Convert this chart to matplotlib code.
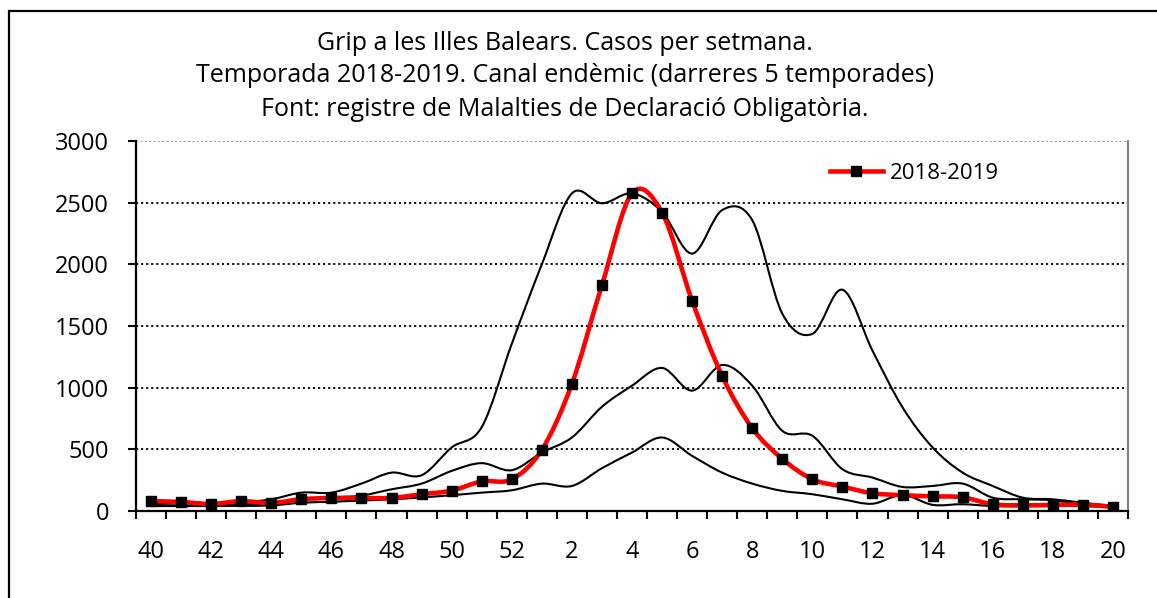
import matplotlib
matplotlib.use("Agg")
import matplotlib.pyplot as plt
import numpy as np
from matplotlib.path import Path
from matplotlib.patches import PathPatch, Rectangle
from matplotlib.lines import Line2D

plt.rcParams['font.family'] = ['Open Sans', 'DejaVu Sans']

weeks = [40, 41, 42, 43, 44, 45, 46, 47, 48, 49, 50, 51, 52,
         1, 2, 3, 4, 5, 6, 7, 8, 9, 10, 11, 12, 13, 14, 15, 16, 17, 18, 19, 20]

season_2018_2019 = [80, 73, 57, 80, 65, 95, 106, 106, 106, 136, 165, 240, 257,
                    496, 1030, 1832, 2575, 2420, 1705, 1095, 672, 423, 257, 198,
                    144, 128, 119, 111, 54, 46, 49, 51, 33]
upper = [75, 78, 62, 70, 95, 149, 149, 222, 311, 290, 515, 680, 1355,
         2000, 2575, 2495, 2575, 2425, 2087, 2440, 2358, 1600, 1436, 1794,
         1300, 840, 515, 311, 203, 108, 95, 67, 41]
median = [55, 60, 50, 55, 60, 87, 108, 125, 176, 222, 325, 388, 331,
          474, 596, 845, 1016, 1160, 976, 1184, 1016, 650, 610, 339,
          271, 195, 203, 222, 108, 95, 87, 50, 33]
lower = [40, 40, 40, 42, 45, 67, 75, 85, 95, 110, 128, 149, 168,
         222, 203, 347, 474, 596, 447, 311, 222, 163, 136, 95,
         59, 130, 50, 55, 40, 40, 40, 40, 30]

title_lines = ["Grip a les Illes Balears. Casos per setmana.",
               "Temporada 2018-2019. Canal endèmic (darreres 5 temporades)",
               "Font: registre de Malalties de Declaració Obligatòria."]


def smooth_path(x, y):
    # excel-like smoothed line: cubic bezier through every point
    p = np.column_stack([x, y]).astype(float)
    n = len(p)
    verts = [p[0]]
    codes = [Path.MOVETO]
    for i in range(n - 1):
        p0 = p[i - 1] if i > 0 else p[i]
        p3 = p[i + 2] if i + 2 < n else p[i + 1]
        c1 = p[i] + (p[i + 1] - p0) / 6.0
        c2 = p[i + 1] - (p3 - p[i]) / 6.0
        verts += [c1, c2, p[i + 1]]
        codes += [Path.CURVE4] * 3
    return Path(verts, codes)


fig = plt.figure(figsize=(11.57, 5.98), dpi=100)
ax = fig.add_axes([136 / 1157, 1 - 511 / 598, (1128 - 136) / 1157, (511 - 141) / 598])

x = np.arange(len(weeks))

for s in [upper, median, lower]:
    ax.add_patch(PathPatch(smooth_path(x, s), fill=False, edgecolor='black', lw=1.5, zorder=3))

ax.add_patch(PathPatch(smooth_path(x, season_2018_2019), fill=False, edgecolor='#ff0000',
                       lw=3.3, zorder=4, capstyle='round'))
ax.plot(x, season_2018_2019, ls='none', marker='s', ms=7, color='black', zorder=5)

ax.set_xlim(-0.5, len(weeks) - 0.5)
ax.set_ylim(0, 3000)
ax.set_yticks(np.arange(0, 3001, 500))
ax.set_xticks(x[::2])
ax.set_xticklabels([str(w) for w in weeks[::2]])
ax.set_xticks(np.arange(-0.5, len(weeks), 1), minor=True)
ax.tick_params(axis='x', which='major', length=0, pad=21, labelsize=17)
ax.tick_params(axis='x', which='minor', length=5.5, width=1.5, direction='out')
ax.tick_params(axis='y', length=5.5, width=1.5, pad=14, labelsize=17)

for v in range(500, 3000, 500):
    ax.axhline(v, color='black', lw=1.3, ls=(0, (1.2, 1.6)), zorder=1)
ax.axhline(3000, color='#999999', lw=1.3, ls=(0, (1.2, 1.2)), zorder=1)

ax.spines['left'].set_linewidth(1.6)
ax.spines['bottom'].set_linewidth(1.6)
ax.spines['right'].set_color('#808080')
ax.spines['right'].set_linewidth(1.5)
ax.spines['top'].set_visible(False)

h = Line2D([], [], color='#ff0000', lw=3.3, marker='s', ms=7,
           markerfacecolor='black', markeredgecolor='black')
ax.legend([h], ['2018-2019'], loc='upper right', bbox_to_anchor=(0.89, 0.995),
          frameon=False, fontsize=16, handlelength=2.4, handletextpad=0.3)

for i, line in enumerate(title_lines):
    fig.text(565 / 1157, 1 - (43 + 33 * i) / 598, line, ha='center', va='center',
             fontsize=18)

fig.add_artist(Rectangle((9 / 1157, -0.1), 1.2, 1.1 - 11 / 598, transform=fig.transFigure,
                         fill=False, edgecolor='black', lw=1.6))

fig.savefig('out.png', dpi=100)
